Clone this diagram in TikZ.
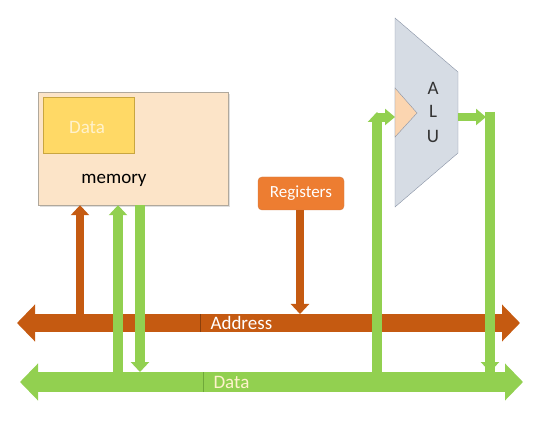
\documentclass[tikz,border=0pt]{standalone}
\usepackage{fontspec}
\setmainfont{Carlito}
\usetikzlibrary{arrows.meta,shadows}
\definecolor{peach}{HTML}{FCE4C8}
\definecolor{membord}{HTML}{B0A89C}
\definecolor{datay}{HTML}{FFD966}
\definecolor{datab}{HTML}{C9A640}
\definecolor{datat}{HTML}{FFF2CC}
\definecolor{regor}{HTML}{ED7D31}
\definecolor{darkor}{HTML}{C55A11}
\definecolor{grn}{HTML}{92D050}
\definecolor{grnd}{HTML}{6FA83A}
\definecolor{alufill}{HTML}{D6DCE4}
\definecolor{alubord}{HTML}{8A94A6}
\definecolor{tri}{HTML}{FBD5B0}
\tikzset{
  txt/.style={font=\fontsize{19}{22}\selectfont},
  oarr/.style={draw=darkor, line width=8pt, -{Triangle[width=18pt,length=10pt]}},
  garr/.style={draw=grn, line width=10pt, -{Triangle[width=18pt,length=10pt]}},
  garrh/.style={draw=grn, line width=8pt, -{Triangle[width=16pt,length=10pt]}},
  bus/.style={line width=18pt, {Triangle[width=36pt,length=18pt]}-{Triangle[width=36pt,length=18pt]}},
}
\begin{document}
\begin{tikzpicture}[x=1pt,y=-1pt]
\useasboundingbox (0,0) rectangle (538,430);
% memory
\node[draw=membord, fill=peach, minimum width=190pt, minimum height=113pt, inner sep=0pt,
      drop shadow={shadow xshift=2pt, shadow yshift=-2pt, opacity=0.25}] (mem) at (133,148.5) {};
\node[draw=datab, fill=datay, minimum width=91pt, minimum height=56pt, inner sep=0pt] (dat) at (88.5,125) {};
\node[txt, text=datat] (datl) at (87,127) {Data};
\node[txt] (meml) at (114,180) {memory};
% registers
\node[draw=darkor!80, fill=regor, rounded corners=4pt, minimum width=86pt, minimum height=33pt,
      inner sep=0pt, txt, font=\fontsize{17}{20}\selectfont, text=white] (reg) at (301,193.5) {Registers};
% ALU
\coordinate (p1) at (395,18);
\coordinate (p2) at (458,72);
\coordinate (p3) at (458,153);
\coordinate (p4) at (395,207);
\draw[draw=alubord, fill=alufill] (p1) -- (p2) -- (p3) -- (p4) -- cycle;
\coordinate (t1) at (395,88);
\coordinate (t2) at (417,113);
\coordinate (t3) at (395,137);
\draw[draw=alubord, fill=tri] (t1) -- (t2) -- (t3) -- cycle;
\node[txt, text=black!80] (la) at (433,88) {A};
\node[txt, text=black!80] (ll) at (433,111) {L};
\node[txt, text=black!80] (lu) at (433,136) {U};
% buses
\coordinate (abL) at (17,323);
\coordinate (abR) at (520,323);
\coordinate (dbL) at (20,382);
\coordinate (dbR) at (523,382);
\draw[bus, draw=darkor, fill=darkor] (abL) -- (abR);
\draw[bus, line width=20pt, draw=grn, fill=grn] (dbL) -- (dbR);
\coordinate (s1) at (200,314);
\coordinate (s2) at (203,372);
\draw[darkor!70!black, line width=0.8pt] (s1) -- ++(0,18);
\draw[grnd, line width=0.8pt] (s2) -- ++(0,20);
\node[txt, text=white, anchor=west] (addl) at (207,323) {Address};
\node[txt, text=datat, anchor=west] (dbl) at (210,382) {Data};
% memory connectors
\coordinate (a1) at (80,314);
\draw[oarr] (a1) -- (a1 |- mem.south);
\coordinate (g1) at (118,372);
\draw[garr] (g1) -- (g1 |- mem.south);
\coordinate (g2) at (140,372);
\draw[garr] (g2 |- mem.south) -- (g2);
% registers connector
\coordinate (a2) at (300,314);
\draw[oarr] (reg.south -| a2) -- (a2);
% ALU connectors
\coordinate (aluin) at (395,117);
\coordinate (aluout) at (458,117);
\coordinate (g3) at (377,372);
\coordinate (g3t) at (377,112);
\draw[garr] (g3) -- (g3t);
\draw[garrh] (aluin -| g3) -- (aluin);
\coordinate (g4) at (490,372);
\coordinate (g4t) at (490,112);
\draw[garr, -] (g4t) -- (g4);
\draw[garr] (g4t) -- (g4);
\coordinate (g4h) at (486,117);
\draw[garrh] (aluout) -- (g4h);
\end{tikzpicture}
\end{document}
